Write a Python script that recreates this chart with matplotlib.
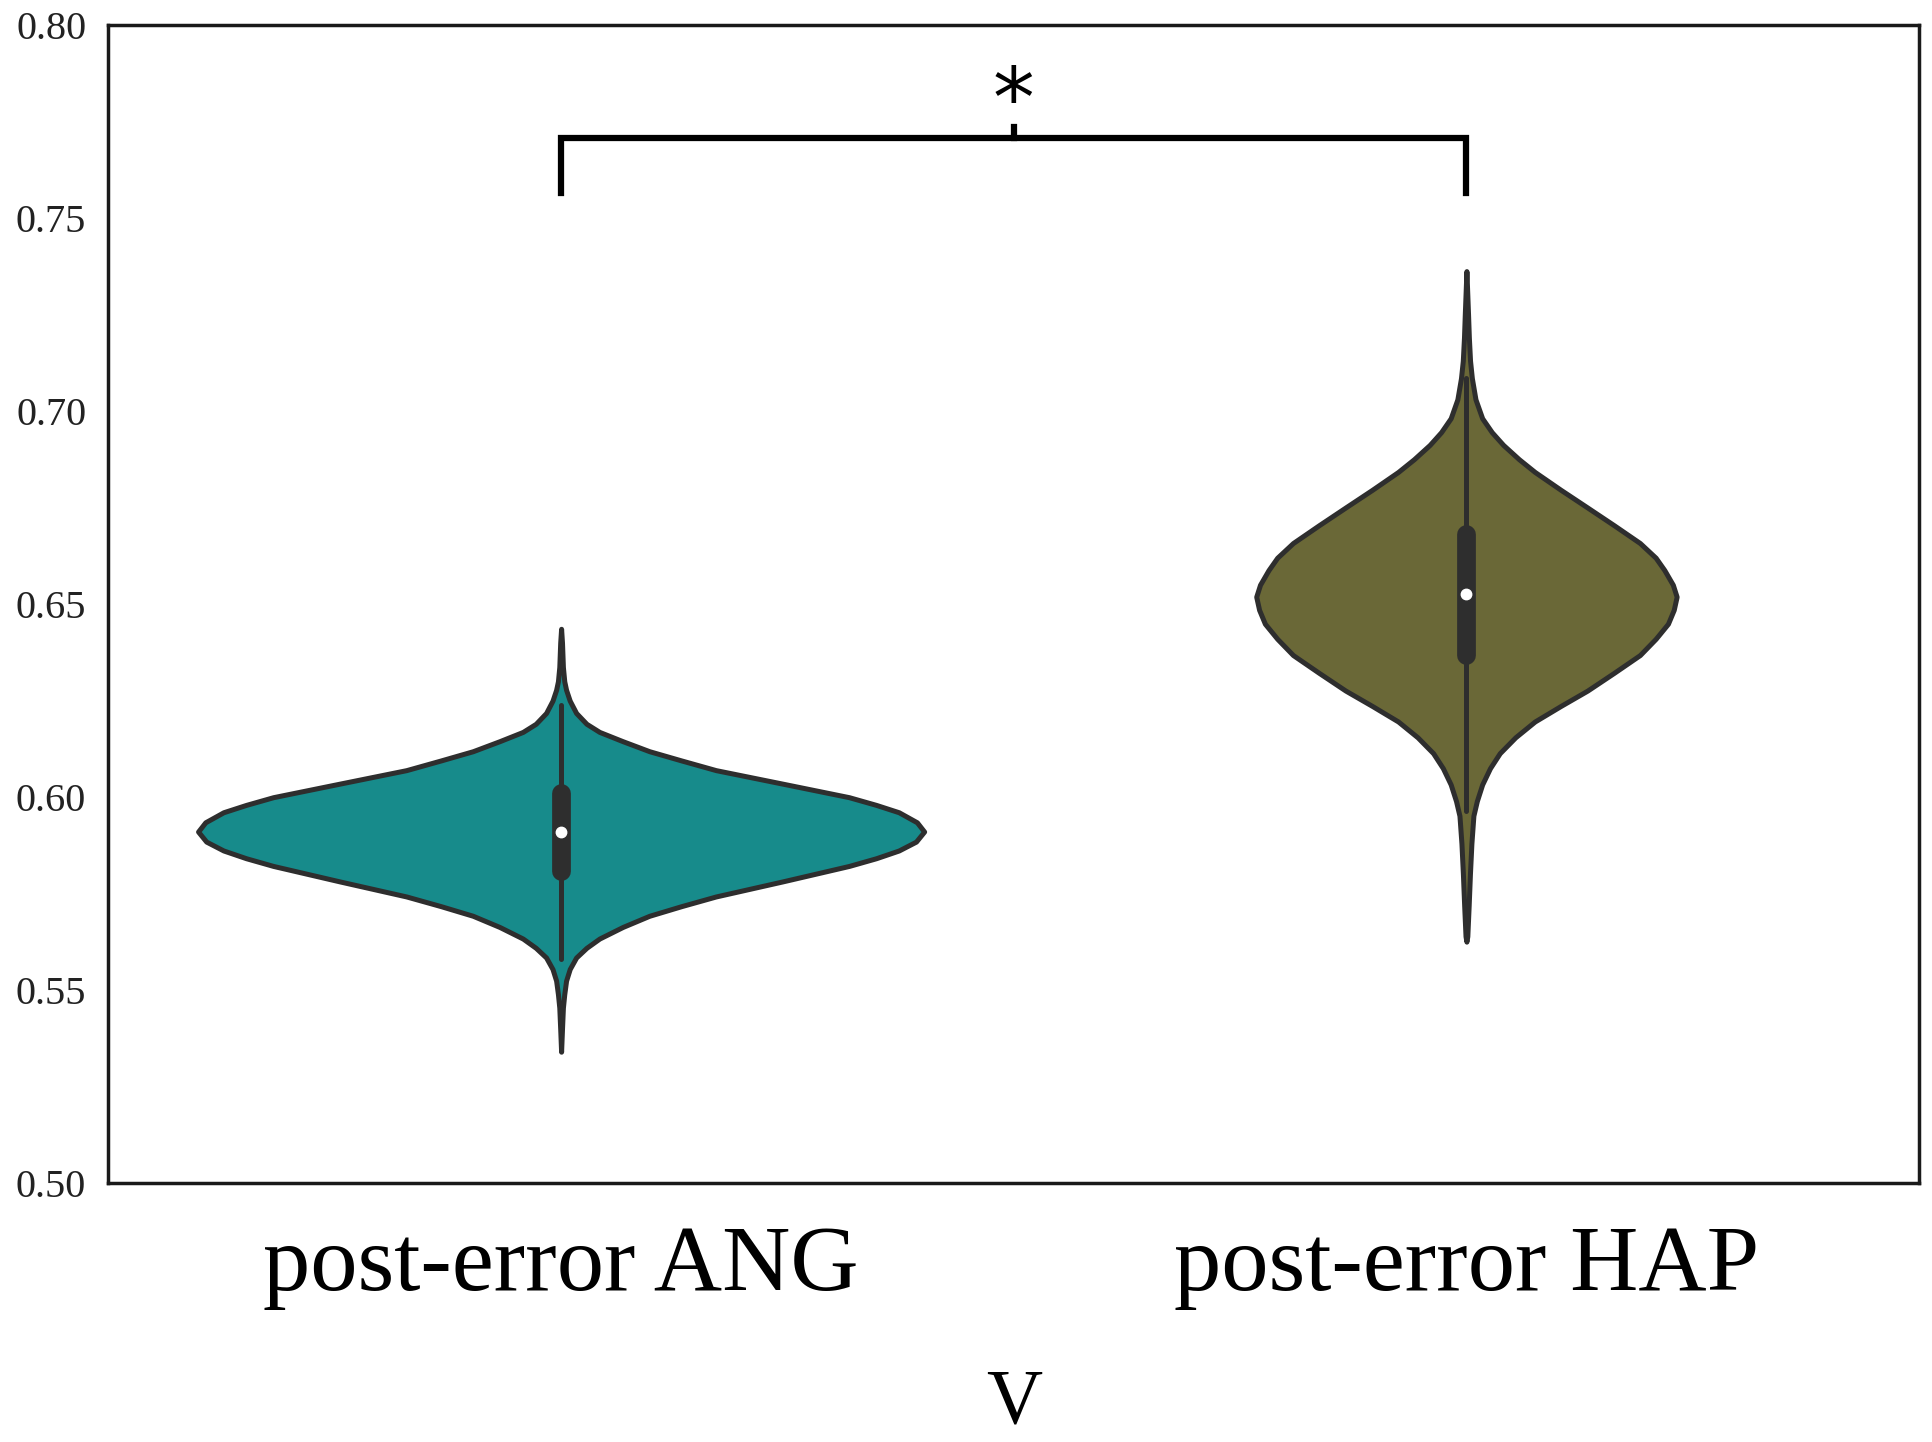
import matplotlib
matplotlib.use("Agg")
import matplotlib.pyplot as plt
import numpy as np

# categories and summary values
categories = ["post-error ANG", "post-error HAP"]
colors = ["#178B8B", "#6A6837"]

# violin outlines: value on y, half width in category units
ang_y = [0.6436, 0.6400, 0.6337, 0.6300, 0.6278, 0.6250, 0.6218, 0.6190, 0.6169,
         0.6145, 0.6119, 0.6095, 0.6070, 0.6035, 0.6000, 0.5980, 0.5961, 0.5935,
         0.5911, 0.5885, 0.5862, 0.5842, 0.5822, 0.5782, 0.5743, 0.5718, 0.5693,
         0.5664, 0.5634, 0.5610, 0.5585, 0.5555, 0.5525, 0.5490, 0.5455, 0.5400,
         0.5341]
ang_w = [0.0, 0.0010, 0.0020, 0.0035, 0.0055, 0.0095, 0.0166, 0.0280, 0.0423,
         0.0680, 0.0975, 0.1330, 0.1710, 0.2447, 0.3180, 0.3480, 0.3730, 0.3930,
         0.4010, 0.3920, 0.3730, 0.3480, 0.3180, 0.2447, 0.1710, 0.1330, 0.0975,
         0.0680, 0.0423, 0.0280, 0.0166, 0.0095, 0.0055, 0.0035, 0.0020, 0.0010,
         0.0]

hap_y = [0.7362, 0.7300, 0.7250, 0.7190, 0.7130, 0.7085, 0.7030, 0.6981, 0.6945,
         0.6912, 0.6875, 0.6842, 0.6796, 0.6750, 0.6704, 0.6658, 0.6620, 0.6588,
         0.6550, 0.6519, 0.6485, 0.6449, 0.6410, 0.6368, 0.6322, 0.6276, 0.6236,
         0.6196, 0.6155, 0.6114, 0.6075, 0.6033, 0.5990, 0.5952, 0.5880, 0.5802,
         0.5720, 0.5640, 0.5626]
hap_w = [0.0, 0.0010, 0.0018, 0.0027, 0.0040, 0.0060, 0.0100, 0.0174, 0.0280,
         0.0406, 0.0580, 0.0755, 0.1040, 0.1336, 0.1630, 0.1916, 0.2090, 0.2186,
         0.2280, 0.2322, 0.2290, 0.2226, 0.2090, 0.1916, 0.1630, 0.1336, 0.1040,
         0.0755, 0.0540, 0.0368, 0.0260, 0.0174, 0.0115, 0.0077, 0.0055, 0.0039,
         0.0025, 0.0010, 0.0]

medians = [0.5911, 0.6527]
q1 = [0.5808, 0.6368]
q3 = [0.6010, 0.6681]
whisk_lo = [0.5580, 0.5964]
whisk_hi = [0.6238, 0.7085]

# significance bracket
bracket_top = 0.7707
bracket_low = 0.7563

serif = ["Liberation Serif", "DejaVu Serif"]
edge = "#2e2e2e"

fig = plt.figure(figsize=(19.33, 14.42), dpi=100)
ax = fig.add_axes([0.0561, 0.1793, 0.9367, 0.8036])

outlines = [(ang_y, ang_w), (hap_y, hap_w)]
for i, (ys, ws) in enumerate(outlines):
    ys = np.array(ys)
    ws = np.array(ws)
    ax.fill_betweenx(ys, i - ws, i + ws, facecolor=colors[i], edgecolor=edge,
                     linewidth=3.6, joinstyle="round", zorder=2)
    # whiskers, box and median
    ax.plot([i, i], [whisk_lo[i], whisk_hi[i]], color=edge, lw=3.6,
            solid_capstyle="round", zorder=3)
    ax.plot([i, i], [q1[i], q3[i]], color=edge, lw=13.5,
            solid_capstyle="round", zorder=3)
    ax.plot(i, medians[i], "o", color="white", markersize=7.5, zorder=4)

# bracket with star
ax.plot([0, 0, 1, 1], [bracket_low, bracket_top, bracket_top, bracket_low],
        color="black", lw=4.5, solid_joinstyle="miter", zorder=3)
ax.plot([0.5, 0.5], [bracket_top, 0.7734], color="black", lw=4.5, zorder=3)
ax.text(0.5, 0.7795, "*", ha="center", va="center", fontsize=60,
        family=["DejaVu Sans"], color="black")

ax.set_xlim(-0.5, 1.5)
ax.set_ylim(0.5, 0.8)
ax.set_yticks([0.50, 0.55, 0.60, 0.65, 0.70, 0.75, 0.80])
ax.set_yticklabels(["0.50", "0.55", "0.60", "0.65", "0.70", "0.75", "0.80"],
                   family=serif, fontsize=29, color="#222222")
ax.set_xticks([0, 1])
ax.set_xticklabels(categories, family=serif, fontsize=68, color="black")
ax.tick_params(axis="y", length=0, pad=16)
ax.tick_params(axis="x", length=0, pad=30)
ax.set_xlabel("V", family=serif, fontsize=56, labelpad=42)

for s in ax.spines.values():
    s.set_linewidth(2.5)
    s.set_color("#1a1a1a")

fig.savefig("out.png", dpi=100)
